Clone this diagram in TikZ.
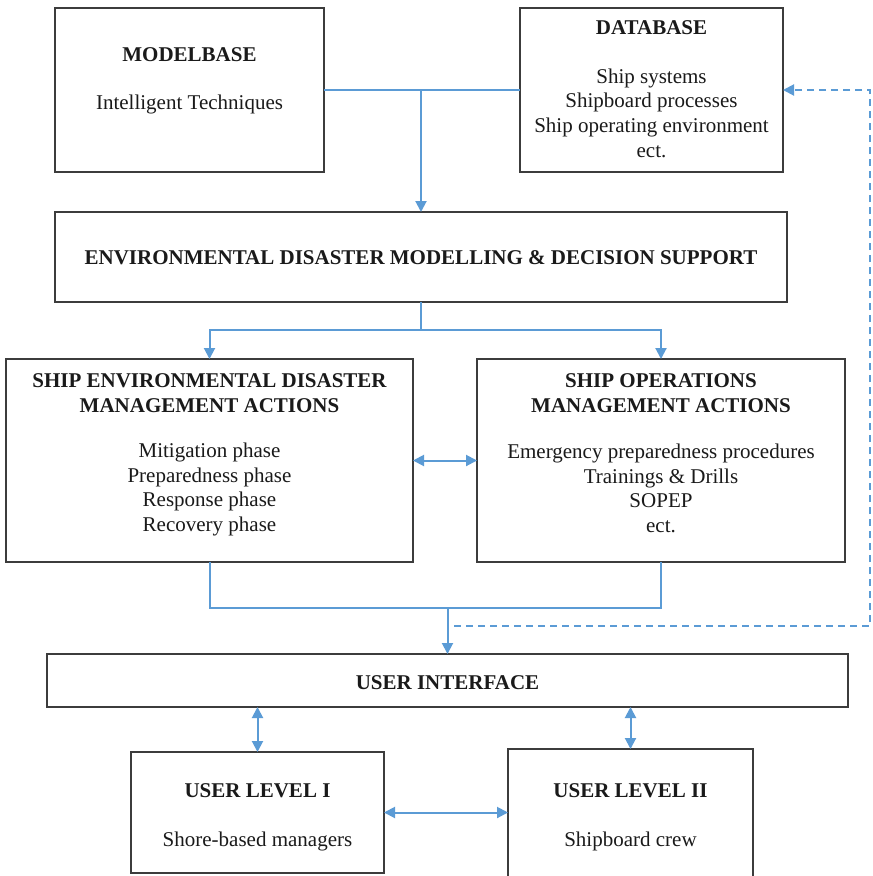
\documentclass[tikz,border=0pt]{standalone}
\usepackage{fontspec}
\setmainfont{Liberation Serif}
\usetikzlibrary{arrows.meta}

\definecolor{edgegray}{HTML}{3C3C3C}
\definecolor{flowblue}{HTML}{5B9BD5}
\definecolor{inkblack}{HTML}{1A1A1A}

\tikzset{
  panel/.style={draw=edgegray, line width=2pt, rectangle, inner sep=0pt, outer sep=0pt, anchor=north west, fill=white},
  title/.style={font=\fontsize{21}{24.7}\selectfont\bfseries, text=inkblack, align=center, inner sep=0pt},
  body/.style={font=\fontsize{21}{24.7}\selectfont, text=inkblack, align=center, inner sep=0pt},
  flow/.style={draw=flowblue, line width=2pt},
  tip/.style={-{Triangle[length=11pt,width=11pt]}},
  twotip/.style={{Triangle[length=11pt,width=11pt]}-{Triangle[length=11pt,width=11pt]}},
  feedback/.style={flow, dash pattern=on 7pt off 5pt},
}

\begin{document}
\begin{tikzpicture}[x=1pt, y=-1pt]
  \clip (0,0) rectangle (873,876);
  \fill[white] (0,0) rectangle (873,876);

  % boxes
  \node[panel, minimum width=269pt, minimum height=164pt] (mb)   at (55,8)   {};
  \node[panel, minimum width=263pt, minimum height=164pt] (db)   at (520,8)  {};
  \node[panel, minimum width=732pt, minimum height=90pt]  (env)  at (55,212) {};
  \node[panel, minimum width=407pt, minimum height=203pt] (sedma) at (6,359) {};
  \node[panel, minimum width=368pt, minimum height=203pt] (soma) at (477,359) {};
  \node[panel, minimum width=801pt, minimum height=53pt]  (ui)   at (47,654) {};
  \node[panel, minimum width=253pt, minimum height=121pt] (ul1)  at (131,752) {};
  \node[panel, minimum width=245pt, minimum height=140pt] (ul2)  at (508,749) {};

  % texts
  \node[title] (mbT) at (189.5,55) {MODELBASE};
  \node[body]  (mbB) at (189.5,104) {Intelligent Techniques};

  \node[title] (dbT) at (651.5,28) {DATABASE};
  \node[body]  (dbB) at (651.5,113) {Ship systems\\Shipboard processes\\Ship operating environment\\ect.};

  \node[title] (envT) at (421,258) {ENVIRONMENTAL DISASTER MODELLING \& DECISION SUPPORT};

  \node[title] (sedmaT) at (209.5,393) {SHIP ENVIRONMENTAL DISASTER\\MANAGEMENT ACTIONS};
  \node[body]  (sedmaB) at (209.5,489.5) {Mitigation phase\\Preparedness phase\\Response phase\\Recovery phase};

  \node[title] (somaT) at (661,393) {SHIP OPERATIONS\\MANAGEMENT ACTIONS};
  \node[body]  (somaB) at (661,488.5) {Emergency preparedness procedures\\Trainings \& Drills\\SOPEP\\ect.};

  \node[title] (uiT) at (447.5,683) {USER INTERFACE};

  \node[title] (ul1T) at (257.5,791) {USER LEVEL I};
  \node[body]  (ul1B) at (257.5,841) {Shore-based managers};

  \node[title] (ul2T) at (630.5,791) {USER LEVEL II};
  \node[body]  (ul2B) at (630.5,841) {Shipboard crew};

  % junction points of the connectors
  \coordinate (j1) at (env.north |- mb.east);
  \coordinate (j2) at (env.south |- 0,330);
  \coordinate (j3) at (ui.north |- 0,608);
  \coordinate (d0) at (454,626);
  \coordinate (d1) at (870,626);

  % model base and database feed the modelling stage
  \draw[flow] (mb.east) -- (db.west);
  \draw[flow, tip] (j1) -- (env.north);

  % modelling stage splits into the two action groups
  \draw[flow] (env.south) -- (j2);
  \draw[flow, tip] (j2) -| (sedma.north);
  \draw[flow, tip] (j2) -| (soma.north);
  \draw[flow, twotip] (sedma.east) -- (soma.west);

  % action groups merge into the user interface
  \draw[flow] (sedma.south) |- (j3);
  \draw[flow] (soma.south) |- (j3);
  \draw[flow, tip] (j3) -- (ui.north);

  % feedback to the database
  \draw[feedback, tip] (d0) -- (d1) |- (db.east);

  % user levels
  \draw[flow, twotip] (ui.south -| ul1.north) -- (ul1.north);
  \draw[flow, twotip] (ui.south -| ul2.north) -- (ul2.north);
  \draw[flow, twotip] (ul1.east) -- (ul1.east -| ul2.west);
\end{tikzpicture}
\end{document}
